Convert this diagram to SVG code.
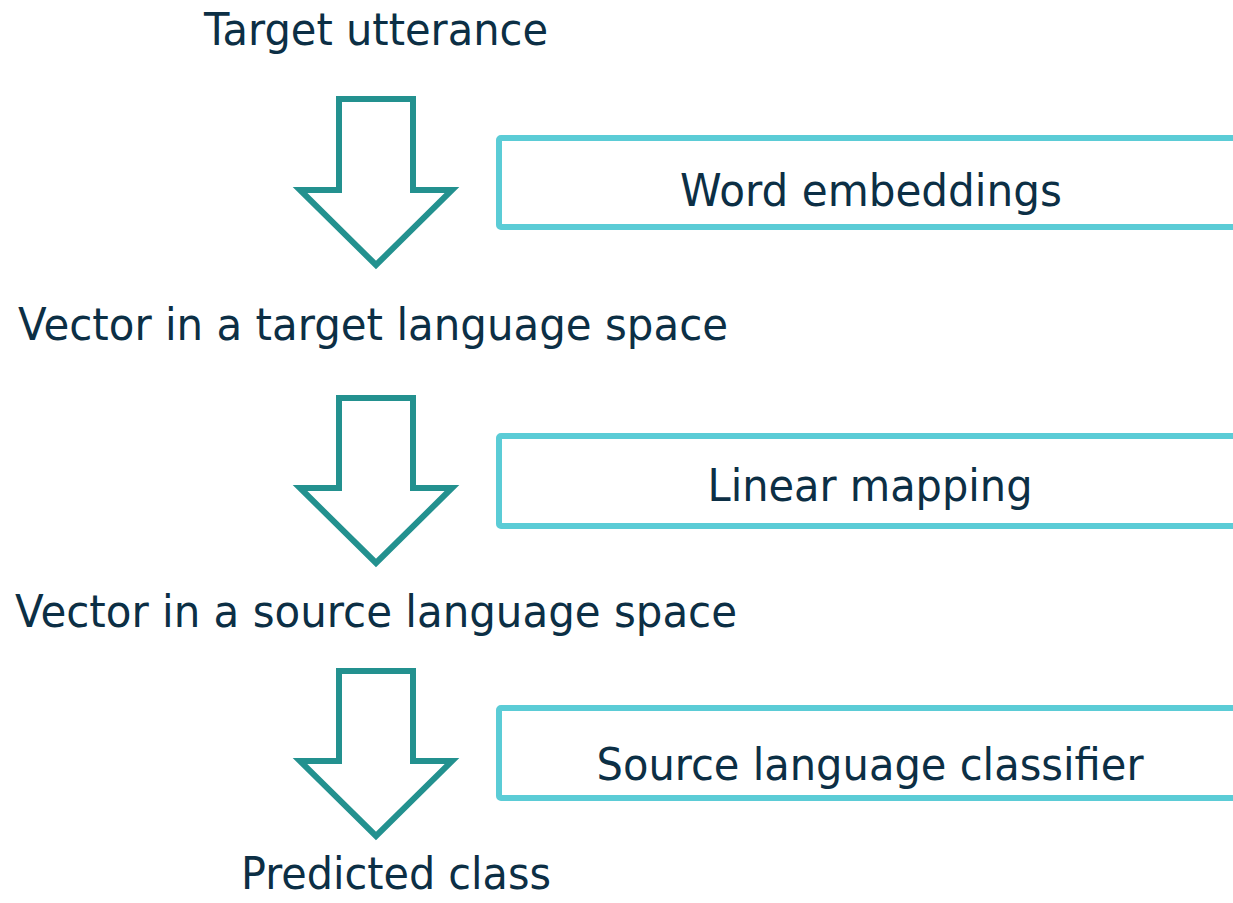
<svg xmlns="http://www.w3.org/2000/svg" width="1233" height="903" viewBox="0 0 1233 903">
<style>
.lbl{font-family:"DejaVu Sans","Liberation Sans",sans-serif;font-size:45px;fill:#0C2F45;text-anchor:middle}
.arrow{fill:#fff;stroke:#23918F;stroke-width:6;stroke-linejoin:miter}
.box{fill:#fff;stroke:#5BCCD6;stroke-width:6}
</style>
<rect width="1233" height="903" fill="#fff"/>
<g id="connectors">
<path class="arrow" d="M339,99 H413 V190 H452 L376,265 L300,190 H339 Z"/>
<path class="arrow" d="M339,398 H413 V488 H452 L376,563 L300,488 H339 Z"/>
<path class="arrow" d="M339,671 H413 V761 H452 L376,836 L300,761 H339 Z"/>
</g>
<g id="n-target"><text class="lbl" x="376" y="45" textLength="344" lengthAdjust="spacingAndGlyphs">Target utterance</text></g>
<g id="n-word"><rect class="box" x="499" y="138" width="760" height="89" rx="2"/><text class="lbl" x="871" y="206" textLength="382" lengthAdjust="spacingAndGlyphs">Word embeddings</text></g>
<g id="n-vtarget"><text class="lbl" x="373" y="340" textLength="710" lengthAdjust="spacingAndGlyphs">Vector in a target language space</text></g>
<g id="n-linear"><rect class="box" x="499" y="436" width="760" height="90" rx="2"/><text class="lbl" x="870" y="501" textLength="325" lengthAdjust="spacingAndGlyphs">Linear mapping</text></g>
<g id="n-vsource"><text class="lbl" x="376" y="627" textLength="722" lengthAdjust="spacingAndGlyphs">Vector in a source language space</text></g>
<g id="n-classifier"><rect class="box" x="499" y="708" width="760" height="90" rx="2"/><text class="lbl" x="870" y="780" textLength="547" lengthAdjust="spacingAndGlyphs">Source language classifier</text></g>
<g id="n-predicted"><text class="lbl" x="396" y="889" textLength="310" lengthAdjust="spacingAndGlyphs">Predicted class</text></g>
</svg>
